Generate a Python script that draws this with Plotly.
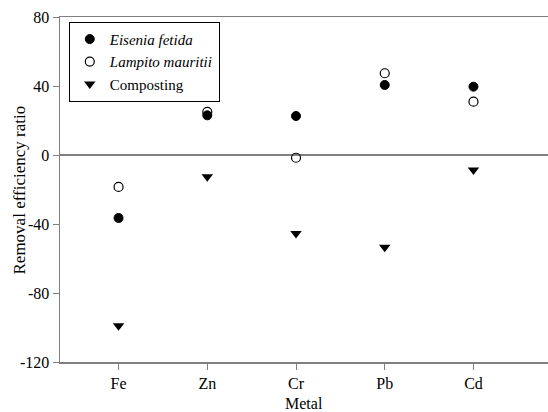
import plotly.graph_objects as go

metals = ["Fe", "Zn", "Cr", "Pb", "Cd"]
eisenia = [-36.5, 23, 22.6, 40.6, 39.6]
lampito = [-18.5, 25, -1.6, 47.4, 30.9]
composting = [-99, -12.6, -45.5, -53.5, -8.7]
y_ticks = [80, 40, 0, -40, -80, -120]
y_tick_labels = ["80", "40", "0", "-40", "-80", "-120"]

font_family = "Liberation Serif, Times New Roman, serif"
axis_color = "#7f7f7f"

fig = go.Figure()
fig.add_trace(go.Scatter(x=metals, y=eisenia, mode="markers", name="<i>Eisenia fetida</i>",
                         marker=dict(symbol="circle", size=9, color="black",
                                     line=dict(color="black", width=1))))
fig.add_trace(go.Scatter(x=metals, y=lampito, mode="markers", name="<i>Lampito mauritii</i>",
                         marker=dict(symbol="circle-open", size=9, color="black",
                                     line=dict(color="black", width=1.2))))
fig.add_trace(go.Scatter(x=metals, y=composting, mode="markers", name="Composting",
                         marker=dict(symbol="triangle-down", size=10, color="black",
                                     line=dict(color="black", width=0))))

fig.update_layout(
    width=548, height=412,
    margin=dict(l=60, r=0, t=17, b=50, autoexpand=False),
    plot_bgcolor="white", paper_bgcolor="white",
    font=dict(family=font_family, size=16, color="black"),
    hovermode=False,
    showlegend=True,
    legend=dict(x=0.018, y=0.986, xanchor="left", yanchor="top",
                bordercolor="black", borderwidth=1, bgcolor="white",
                font=dict(family=font_family, size=15, color="black"),
                tracegroupgap=0, itemwidth=30),
    xaxis=dict(
        type="category", range=[-0.66, 4.84], automargin=False,
        showline=True, linecolor=axis_color, linewidth=1.5, mirror=True,
        ticks="outside", ticklen=6, tickcolor=axis_color,
        showgrid=False, zeroline=False,
        tickfont=dict(family=font_family, size=16),
    ),
    yaxis=dict(
        range=[-120, 80], tickvals=y_ticks, ticktext=y_tick_labels, automargin=False,
        showline=True, linecolor=axis_color, linewidth=1.5, mirror=False,
        ticks="outside", ticklen=6, tickcolor=axis_color,
        showgrid=False, zeroline=True, zerolinecolor=axis_color, zerolinewidth=1.2,
        tickfont=dict(family=font_family, size=16),
    ),
    annotations=[
        dict(text="Metal", xref="paper", yref="paper", x=0.5, y=-0.119,
             xanchor="center", yanchor="middle", showarrow=False,
             font=dict(family=font_family, size=16, color="black")),
        dict(text="Removal efficiency ratio", xref="paper", yref="paper",
             x=-0.082, y=0.5, xanchor="center", yanchor="middle",
             textangle=-90, showarrow=False,
             font=dict(family=font_family, size=17, color="black")),
    ],
)

fig.write_html("out.html", config={"displayModeBar": False, "staticPlot": True},
               post_script="document.body.style.margin='0px';document.body.style.overflow='hidden';")
